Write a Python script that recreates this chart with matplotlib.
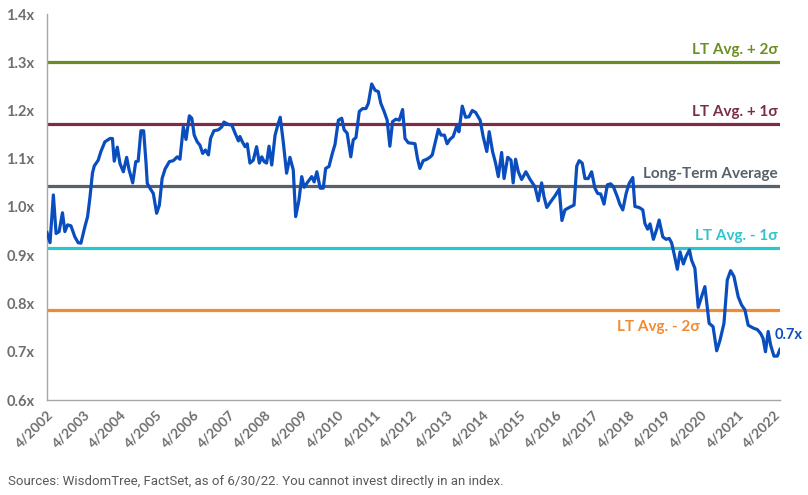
import matplotlib
matplotlib.use("Agg")
import matplotlib.pyplot as plt
import matplotlib.transforms as mtransforms

# ---- data (months since 4/2002, forward P/E multiple) ----
month_offset = [
    0.0, 1.0, 2.1, 3.0, 4.0, 5.1, 5.9, 6.8, 7.9, 9.2, 10.3, 11.2, 12.5, 13.4, 14.2, 15.0, 15.6, 16.9, 17.8, 19.1,
    20.8, 21.6, 22.2, 23.2, 24.1, 25.2, 26.3, 27.1, 28.3, 29.3, 30.1, 31.0, 31.9,
    32.7, 33.1, 34.0, 35.1, 36.2, 37.1, 38.0, 39.0, 40.4, 41.7, 43.0, 43.9, 45.0, 45.9, 47.0, 47.8, 48.6, 49.6,
    50.5, 51.4, 52.3, 53.3, 54.0, 55.1, 56.6, 57.7, 58.4, 59.9, 61.0, 62.1, 63.2,
    63.7, 64.5, 65.4, 66.1, 67.0, 68.1, 69.2, 70.1, 70.9, 71.7, 72.5, 73.3, 74.2, 75.3, 76.2, 77.0, 78.0, 79.1,
    80.2, 81.3, 82.1, 83.2, 84.1, 84.9, 86.1, 87.4, 88.2, 89.1, 90.2, 91.2, 92.0, 93.1, 94.2, 95.1,
    96.2, 97.3, 98.1, 99.1, 100.3, 101.1, 102.0, 103.1, 104.2, 105.3, 106.1, 107.2, 108.3, 109.4, 110.2, 111.3,
    112.3, 113.2, 114.1, 115.2, 116.3, 117.4, 118.2, 119.3, 120.7, 121.5, 122.3, 123.1, 124.2, 125.4, 126.4,
    127.2, 128.1, 129.2, 130.1, 131.2, 132.1, 133.0, 134.1, 135.3, 136.0, 137.1, 138.2, 139.3, 140.4, 141.5,
    143.0, 144.0, 145.2, 146.0, 147.1, 148.1, 149.0, 150.1, 150.9, 152.1, 153.2, 153.9, 154.7, 155.6, 156.7,
    158.1, 159.5, 161.1, 162.2, 163.3, 164.1, 165.0, 166.3, 167.7, 169.1, 170.0, 171.0, 172.4, 174.0, 174.9,
    175.7, 176.7, 177.6, 178.7, 179.8, 180.9, 181.8, 182.8, 183.9, 185.0, 186.1, 187.0, 188.3, 189.1, 190.1,
    191.2, 192.2, 193.4, 194.1, 195.5, 196.7, 197.4, 198.3, 199.1, 200.2, 201.3, 202.1, 203.3, 204.4, 205.4,
    206.2, 207.1, 208.1, 209.0, 210.1, 211.0, 212.1, 212.8, 213.9, 215.0, 216.1, 217.2, 218.6, 219.9, 221.1,
    222.2, 223.5, 224.6, 225.7, 226.8, 228.2, 229.3, 230.4, 231.5, 233.2, 234.5, 235.6, 236.4, 237.2, 238.1,
    238.9, 240.0, 241.1, 242.0,
]
multiple = [
    0.947, 0.926, 1.025, 0.945, 0.949, 0.988, 0.949, 0.963, 0.961, 0.938, 0.926, 0.925, 0.959, 0.980, 1.021, 1.070, 1.085, 1.097, 1.115, 1.135,
    1.142, 1.142, 1.095, 1.124, 1.090, 1.073, 1.103, 1.077, 1.050, 1.094, 1.095, 1.158, 1.158,
    1.091, 1.049, 1.039, 1.028, 0.987, 1.004, 1.059, 1.079, 1.094, 1.096, 1.104, 1.099, 1.166, 1.140, 1.189, 1.184, 1.149, 1.135,
    1.128, 1.111, 1.118, 1.108, 1.142, 1.158, 1.160, 1.166, 1.176, 1.171, 1.170, 1.153, 1.137,
    1.146, 1.135, 1.125, 1.131, 1.091, 1.097, 1.125, 1.091, 1.104, 1.094, 1.091, 1.126, 1.087, 1.149, 1.170, 1.186, 1.135, 1.070,
    1.103, 1.077, 0.980, 1.015, 1.063, 1.041, 1.052, 1.063, 1.052, 1.073, 1.039, 1.039, 1.080, 1.084, 1.111, 1.130,
    1.180, 1.184, 1.160, 1.153, 1.104, 1.139, 1.144, 1.198, 1.204, 1.204, 1.215, 1.255, 1.242, 1.239, 1.215, 1.198,
    1.180, 1.126, 1.177, 1.182, 1.180, 1.202, 1.142, 1.133, 1.132, 1.131, 1.101, 1.080, 1.096, 1.099, 1.103,
    1.108, 1.132, 1.161, 1.149, 1.149, 1.131, 1.140, 1.146, 1.168, 1.156, 1.209, 1.186, 1.187, 1.200, 1.196,
    1.180, 1.146, 1.115, 1.156, 1.115, 1.091, 1.063, 1.113, 1.059, 1.103, 1.097, 1.050, 1.099, 1.073, 1.057,
    1.073, 1.057, 1.042, 1.013, 1.050, 1.021, 0.999, 1.011, 1.023, 1.037, 0.972, 0.994, 0.999, 1.004, 1.085,
    1.096, 1.091, 1.059, 1.059, 1.073, 1.039, 1.028, 1.027, 1.006, 1.046, 1.048, 1.042, 1.021, 1.006, 0.994,
    1.028, 1.049, 1.061, 1.001, 0.999, 0.994, 0.966, 0.954, 0.965, 0.933, 0.954, 0.973, 0.938, 0.933, 0.935,
    0.926, 0.901, 0.871, 0.907, 0.882, 0.898, 0.911, 0.890, 0.873, 0.792, 0.814, 0.835, 0.759, 0.752, 0.702,
    0.724, 0.759, 0.849, 0.868, 0.856, 0.814, 0.797, 0.787, 0.755, 0.749, 0.746, 0.738, 0.728, 0.700, 0.742,
    0.714, 0.691, 0.691, 0.705,
]

lt_average = 1.043
lt_sigma = 0.1285

tick_months = [0, 12, 24, 36, 48, 60, 72, 84, 96, 108, 120, 132, 144, 156, 168, 180, 192, 204, 216, 228, 240]
tick_labels = ["4/2002", "4/2003", "4/2004", "4/2005", "4/2006", "4/2007", "4/2008", "4/2009", "4/2010",
               "4/2011", "4/2012", "4/2013", "4/2014", "4/2015", "4/2016", "4/2017", "4/2018", "4/2019",
               "4/2020", "4/2021", "4/2022"]
y_ticks = [0.6, 0.7, 0.8, 0.9, 1.0, 1.1, 1.2, 1.3, 1.4]
y_tick_labels = ["0.6x", "0.7x", "0.8x", "0.9x", "1.0x", "1.1x", "1.2x", "1.3x", "1.4x"]

band_names = ["LT Avg. + 2\u03c3", "LT Avg. + 1\u03c3", "Long-Term Average", "LT Avg. - 1\u03c3", "LT Avg. - 2\u03c3"]
band_sigmas = [2, 1, 0, -1, -2]
band_colors = ["#6b8e23", "#7b2d45", "#56616b", "#2ec5cc", "#f28a30"]

FONT = ["Lato", "DejaVu Sans"]
plt.rcParams["font.family"] = FONT

fig = plt.figure(figsize=(8.08, 4.95), dpi=100)
ax = fig.add_axes([47 / 808, 1 - 400 / 495, 733 / 808, 386 / 495])

for name, s, c in zip(band_names, band_sigmas, band_colors):
    level = lt_average + s * lt_sigma
    ax.axhline(level, color=c, lw=2.3, zorder=2)

ax.plot(month_offset, multiple, color="#0a4dbf", lw=2.3, solid_joinstyle="round", zorder=3)

# band labels
for name, s, c in zip(band_names, band_sigmas, band_colors):
    level = lt_average + s * lt_sigma
    if s == -2:
        ax.annotate(name, xy=(215.5, level), xytext=(0, -7), textcoords="offset points",
                    ha="right", va="top", color=c, fontsize=11, fontweight="bold")
    else:
        ax.annotate(name, xy=(241.2, level), xytext=(0, 4), textcoords="offset points",
                    ha="right", va="bottom", color=c, fontsize=11, fontweight="bold")

ax.annotate("0.7x", xy=(month_offset[-1], multiple[-1]), xytext=(-4, 10), textcoords="offset points",
            ha="left", va="center", color="#0a4dbf", fontsize=10.5, fontweight="bold",
            annotation_clip=False)

ax.set_xlim(0, 242)
ax.set_ylim(0.6, 1.4)
ax.set_yticks(y_ticks)
ax.set_yticklabels(y_tick_labels, fontsize=10.5, fontweight="bold", color="#6d6e71")
ax.set_xticks(tick_months)
ax.set_xticklabels(tick_labels, rotation=45, ha="right", rotation_mode="anchor",
                   fontsize=10, fontweight="bold", color="#6d6e71")
offset = mtransforms.ScaledTranslation(2 / 72, 0, fig.dpi_scale_trans)
for lab in ax.get_xticklabels():
    lab.set_transform(lab.get_transform() + offset)
ax.tick_params(axis="both", length=0)
ax.tick_params(axis="y", pad=9)
ax.tick_params(axis="x", pad=6)

for side in ["top", "right"]:
    ax.spines[side].set_visible(False)
for side in ["left", "bottom"]:
    ax.spines[side].set_color("#a6a6a6")
    ax.spines[side].set_linewidth(1.0)

fig.text(8 / 808, 1 - 482 / 495, "Sources: WisdomTree, FactSet, as of 6/30/22. You cannot invest directly in an index.",
         ha="left", va="center", fontsize=9.5, color="#595959", family=["Roboto", "DejaVu Sans"])

fig.savefig("out.png", dpi=100)
